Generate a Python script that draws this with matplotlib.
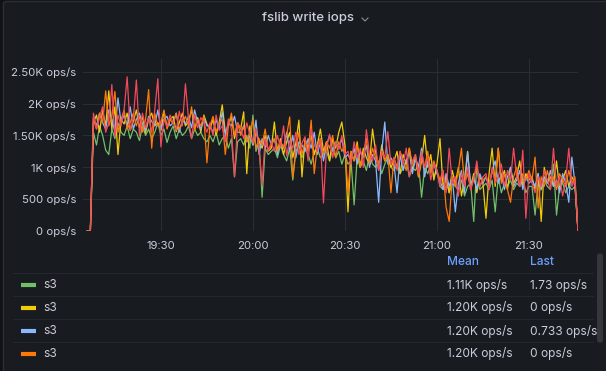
import numpy as np
import matplotlib.pyplot as plt
from matplotlib.patches import FancyBboxPatch
from matplotlib.lines import Line2D

# one sample per minute, starting 19:06 (minutes after 19:00)
t_start = 6

green = [0, 0,
         1550, 1350, 1650, 1500, 1270, 1200, 1600, 1450, 1700, 1550, 1500, 1650, 1450, 1600, 1550, 1420, 1650, 1500, 1600, 1450,
         1550, 1700, 1500, 1600, 1390, 1550, 1650, 1450, 1600, 1500, 1550, 1650, 1450, 1600, 1500, 1550, 1450, 1400,
         1500, 1400, 1550, 1350, 1450, 1500, 1300, 1450, 850, 1400,
         1450, 1350, 1500, 1300, 1820, 1250, 1400, 530, 1300, 1200,
         1250, 1300, 1150, 1350, 1200, 1100, 1300, 800, 1250, 1350, 1150, 1300, 1200, 1050, 1250, 1300, 1150, 1200, 1250, 1100,
         1300, 1150, 1250, 1050, 1200,
         1050, 1100, 410, 1150, 1000, 1100, 950, 1200, 1050, 1000, 1100, 900, 1050, 1150, 1000,
         950, 1050, 900, 1000, 1100, 850, 1000, 950, 1050, 530, 1000, 900, 1050, 850, 950,
         700, 650, 800, 600, 750, 700, 650, 800, 550, 700, 750, 150, 1050, 650, 700,
         750, 650, 800, 300, 850, 600, 750, 700, 800, 650, 750, 700, 850, 600, 700,
         700, 250, 750, 650, 800, 700, 650, 1050, 250, 700, 750, 600, 700, 650, 700,
         1.73]
yellow = [0, 0,
          1700, 1820, 1550, 1900, 1650, 2200, 1600, 1950, 1200, 1750, 1680, 1850, 1580, 1720, 1900, 1620, 1800, 1540, 1760, 1850,
          1650, 1700, 1580, 1880, 1620, 1750, 1800, 1560, 1700, 1850, 1650, 1720, 1900, 1600, 1780, 1550, 1820, 1680,
          1600, 1750, 1500, 1700, 1980, 1550, 1650, 1800, 1450, 1700,
          1600, 1870, 900, 1650, 1350, 1550, 1420, 1300, 1500, 1250,
          1300, 1710, 1250, 1450, 1200, 1400, 1550, 1150, 1380, 1740, 850, 1450, 1300, 1500, 1200, 1350, 1600, 1250, 1400, 1100,
          1450, 1300, 1550, 1710, 1350,
          300, 1250, 1100, 1400, 1000, 1300, 1150, 1050, 1600, 1250, 950, 1350, 1100, 1200, 1000,
          1100, 1250, 900, 1200, 1050, 1300, 950, 1150, 850, 1100, 1500, 1000, 1200, 800, 1050,
          1450, 700, 850, 600, 950, 750, 1000, 550, 800, 1250, 700, 900, 600, 850, 750,
          200, 900, 1300, 700, 1300, 800, 950, 650, 1000, 750, 850, 1100, 700, 900, 800,
          850, 650, 900, 150, 1000, 750, 850, 700, 1100, 650, 800, 950, 700, 850, 750,
          0]
blue = [0, 0,
        1780, 1650, 1850, 1700, 1600, 1900, 1750, 1550, 2090, 1700, 1820, 1650, 1950, 1600, 1750, 1850, 1680, 1580, 1800, 1720,
        1650, 1900, 1600, 1750, 1800, 1650, 1700, 1850, 1550, 1750, 1680, 1800, 1620, 1900, 1700, 1600, 1780, 1650,
        1650, 1550, 1750, 1600, 1870, 1500, 1700, 1650, 1800, 1550,
        1550, 1650, 1400, 1500, 1350, 1740, 1200, 1450, 1300, 1500,
        1350, 1450, 1200, 1400, 1300, 1550, 1250, 1500, 1150, 1400, 1350, 1250, 1450, 1300, 1550, 1200, 1400, 1100, 1350, 1500,
        1250, 1400, 1300, 1450, 1150,
        1200, 1100, 1300, 1050, 1250, 1150, 1350, 1000, 1200, 1100, 450, 1250, 1710, 1050, 1150,
        1050, 600, 1200, 950, 1100, 1250, 900, 1150, 1000, 1300, 850, 1100, 950, 1050, 900,
        800, 650, 900, 700, 850, 300, 750, 950, 600, 1240, 700, 850, 650, 900, 750,
        850, 700, 950, 1100, 750, 900, 650, 850, 1000, 700, 800, 950, 650, 850, 750,
        800, 700, 900, 650, 850, 750, 950, 700, 800, 600, 900, 750, 450, 1160, 750,
        0.733]
orange = [0, 0,
          1750, 1600, 1850, 1700, 2200, 1650, 1800, 2190, 1550, 1750, 1900, 1600, 1700, 1850, 1650, 1800, 1550, 1750, 2220, 1300,
          1850, 1650, 1700, 1900, 1600, 1750, 1680, 1850, 1600, 1700, 1800, 1650, 1950, 1580, 1750, 1650, 1800, 1070,
          1650, 1800, 1550, 1700, 1750, 1200, 1650, 1850, 1500, 1700,
          1500, 1650, 1400, 1550, 1750, 1300, 1450, 1350, 1600, 1250,
          1350, 1450, 1250, 1400, 1300, 1500, 1790, 830, 1300, 1550, 1200, 1400, 1250, 1740, 900, 1350, 1450, 1200, 1400, 1300,
          1500, 1150, 1400, 1250, 1350,
          600, 1250, 1100, 1350, 1000, 1200, 1450, 1050, 1300, 1150, 1000, 1250, 1100, 1200, 600,
          1150, 1000, 1250, 1100, 950, 1300, 1050, 1200, 850, 1150, 1000, 1250, 900, 1100, 950,
          800, 950, 370, 150, 850, 700, 950, 1300, 750, 900, 650, 850, 1000, 700, 800,
          850, 700, 950, 800, 1300, 750, 900, 650, 450, 850, 1000, 700, 900, 800, 950,
          800, 1160, 360, 850, 700, 950, 750, 850, 650, 900, 800, 700, 950, 750, 850,
          0]
red = [0, 0,
       1850, 1600, 1780, 1950, 1550, 1700, 2300, 1480, 1820, 1650, 1900, 2420, 1580, 1760, 2370, 1500, 1850, 1620, 1780, 1550,
       1900, 2390, 1320, 1750, 1640, 1820, 1700, 1580, 1880, 1650, 2310, 1760, 1450, 1820, 1620, 1780, 1700, 1550,
       1700, 1500, 1820, 1580, 1650, 1400, 1760, 1600, 850, 1700,
       1620, 1450, 1700, 1520, 1380, 1600, 1300, 720, 1450, 1250,
       1400, 1250, 1500, 1320, 1650, 1180, 1420, 1300, 1550, 1200, 1380, 1480, 1100, 1600, 1350, 1250, 1450, 440, 1300, 1520,
       1150, 1400, 1280, 1500, 1200,
       1250, 1050, 1400, 1150, 1300, 1000, 1590, 1200, 1100, 1350, 950, 1250, 1150, 1560, 1050,
       1150, 950, 1250, 1050, 1300, 850, 1100, 1200, 900, 1250, 1000, 1150, 800, 1050, 950,
       700, 950, 600, 1300, 750, 850, 550, 900, 700, 1000, 650, 800, 1100, 700, 850,
       900, 650, 1000, 750, 850, 1050, 700, 950, 800, 1300, 850, 700, 1270, 200, 900,
       750, 600, 850, 700, 950, 800, 650, 1300, 700, 850, 550, 800, 1300, 700, 800,
       0]

series = [green, yellow, blue, orange, red]
colors = ['#73bf69', '#f2cc0c', '#8ab8ff', '#ff780a', '#f2495c']
legend_names = ['s3', 's3', 's3', 's3']
legend_mean = ['1.11K ops/s', '1.20K ops/s', '1.20K ops/s', '1.20K ops/s']
legend_last = ['1.73 ops/s', '0 ops/s', '0.733 ops/s', '0 ops/s']

y_ticks = [0, 500, 1000, 1500, 2000, 2500]
y_labels = ['0 ops/s', '500 ops/s', '1K ops/s', '1.50K ops/s', '2K ops/s', '2.50K ops/s']
x_ticks = [30, 60, 90, 120, 150]
x_labels = ['19:30', '20:00', '20:30', '21:00', '21:30']

plt.rcParams['font.family'] = ['Inter', 'DejaVu Sans']

W, H = 606, 371
BG = '#181b1f'
TEXT = '#ccccdc'
FS = 8.6


def fx(px):
    return px / W


def fy(py):
    return 1 - py / H


fig = plt.figure(figsize=(W / 100, H / 100), dpi=100, facecolor='#111217')
panel = FancyBboxPatch((fx(3.5), -0.05), 1.05, fy(1.5) + 0.05,
                       boxstyle='round,pad=0,rounding_size=0.006',
                       transform=fig.transFigure, fc=BG, ec='#2c2f34', lw=1, zorder=-10)
fig.patches.append(panel)

fig.text(fx(308), fy(17.5), 'fslib write iops', ha='center', va='center',
         fontsize=9.5, fontweight='medium', color=TEXT)
fig.add_artist(Line2D([fx(362), fx(365), fx(368)], [fy(18), fy(21), fy(18)],
                      transform=fig.transFigure, color='#8e8e9e', lw=0.8))

ax = fig.add_axes([fx(83), fy(231), fx(578 - 83), (231 - 59) / H])
ax.patch.set_alpha(0)
t = np.arange(len(red)) + t_start
for vals, c in zip(series, colors):
    ax.plot(t, vals, color=c, lw=0.9, solid_joinstyle='round')

ax.set_xlim(4.6, 166)
ax.set_ylim(0, 2700)
ax.set_yticks(y_ticks, y_labels)
ax.set_xticks(x_ticks, x_labels)
ax.grid(True, color='#2a2d32', lw=0.8)
ax.set_axisbelow(True)
for s in ax.spines.values():
    s.set_visible(False)
ax.tick_params(length=0, colors=TEXT, labelsize=8.2)
ax.tick_params(axis='y', pad=5)
ax.tick_params(axis='x', pad=7)

# legend table
fig.text(fx(447), fy(262), 'Mean', color='#6e9fff', fontsize=FS, fontweight='medium', va='center')
fig.text(fx(530), fy(262), 'Last', color='#6e9fff', fontsize=FS, fontweight='medium', va='center')
for ly in [273, 296, 319, 342]:
    fig.add_artist(Line2D([fx(13), fx(593)], [fy(ly), fy(ly)], transform=fig.transFigure,
                          color='#24272b', lw=0.8))
row_y = [285, 308, 331, 354]
for i, ry in enumerate(row_y):
    fig.add_artist(Line2D([fx(21), fx(36)], [fy(ry), fy(ry)], transform=fig.transFigure,
                          color=colors[i], lw=3, solid_capstyle='butt'))
    fig.text(fx(43), fy(ry), legend_names[i], color=TEXT, fontsize=FS, va='center')
    fig.text(fx(447), fy(ry), legend_mean[i], color=TEXT, fontsize=FS, va='center')
    fig.text(fx(530), fy(ry), legend_last[i], color=TEXT, fontsize=FS, va='center')

# scrollbar
fig.patches.append(FancyBboxPatch((fx(597), fy(343)), fx(6), (343 - 253) / H,
                                  boxstyle='round,pad=0,rounding_size=0.008',
                                  transform=fig.transFigure, fc='#34373c', ec='none'))

fig.savefig('out.png', dpi=100, facecolor=fig.get_facecolor())
